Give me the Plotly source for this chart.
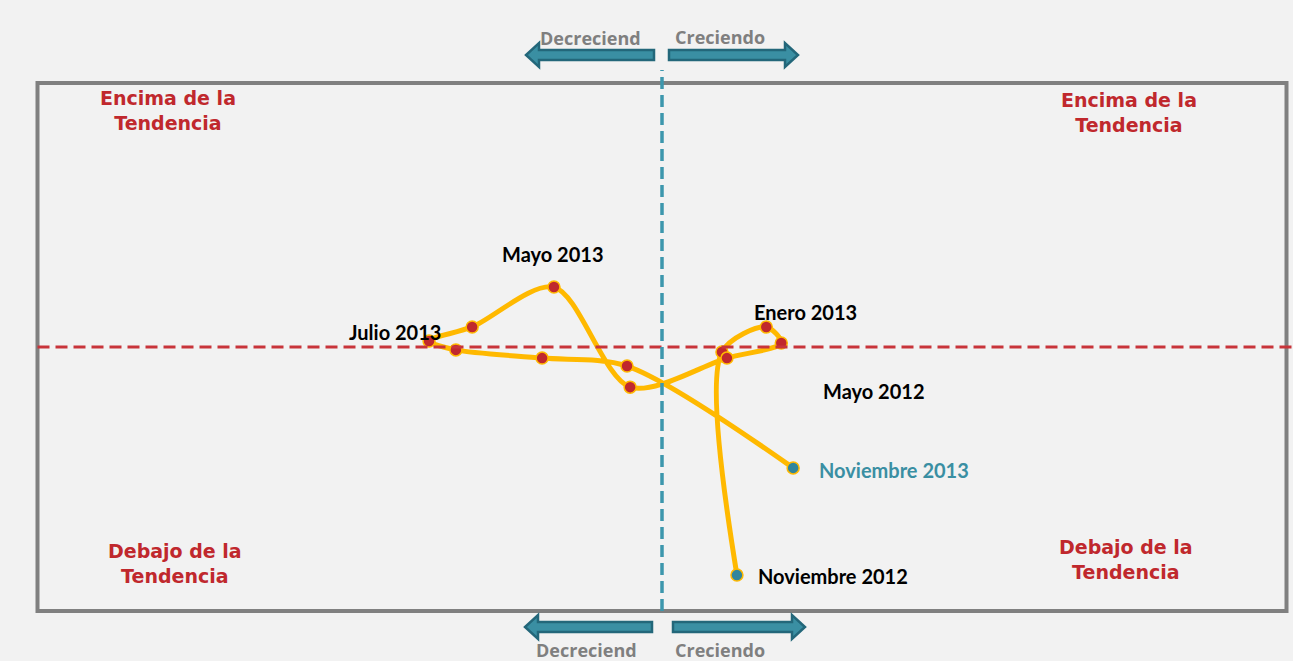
import plotly.graph_objects as go

# reloj del ciclo: desviación de la tendencia (y) vs crecimiento (x)
meses = ["Noviembre 2012", "Diciembre 2012", "Enero 2013", "Febrero 2013", "Marzo 2013",
         "Abril 2013", "Mayo 2013", "Junio 2013", "Julio 2013", "Agosto 2013",
         "Septiembre 2013", "Octubre 2013", "Noviembre 2013"]
crecimiento = [0.120, 0.096, 0.167, 0.191, 0.104, -0.051, -0.173, -0.304, -0.373, -0.330, -0.192, -0.056, 0.210]
nivel = [-0.864, -0.019, 0.076, 0.015, -0.042, -0.152, 0.227, 0.076, 0.023, -0.011, -0.042, -0.072, -0.458]

W, H = 1293, 661
# escala de la caja: x -1..1 -> px 38..1287, y -1..1 -> px 611..83
X0, XS = 662, 624.5
Y0, YS = 347, 264


def px(x):
    return (x - X0) / XS


def py(y):
    return (Y0 - y) / YS


AMBAR = "#ffb900"
ROJO = "#c0282d"
TEAL = "#31859c"
GRIS = "#808080"

fig = go.Figure()

colores = [TEAL] + [ROJO] * (len(meses) - 2) + [TEAL]
fig.add_trace(go.Scatter(
    x=crecimiento, y=nivel, mode="lines+markers", text=meses,
    line=dict(color=AMBAR, width=5, shape="spline", smoothing=0.85),
    marker=dict(size=12, color=colores, line=dict(color=AMBAR, width=1.5)),
    hoverinfo="text", showlegend=False,
))

shapes = []
# caja
shapes.append(dict(type="rect", xref="x", yref="y", x0=-1, x1=1, y0=-1, y1=1,
                   line=dict(color=GRIS, width=4)))
# ejes de tendencia
shapes.append(dict(type="line", xref="x", yref="y", x0=-1, x1=px(W), y0=0, y1=0,
                   line=dict(color="#c8343a", width=3, dash="12px,6px")))
shapes.append(dict(type="line", xref="x", yref="y", x0=0, x1=0, y0=-1, y1=py(70),
                   line=dict(color="#3d97ad", width=3.5, dash="12px,6px")))


def flecha(x_cola, x_punta, yc, derecha):
    # flecha de bloque en píxeles
    s = 1 if derecha else -1
    x_base = x_punta - s * 13
    pts = [(x_cola, yc - 5), (x_base, yc - 5), (x_base, yc - 12), (x_punta, yc),
           (x_base, yc + 12), (x_base, yc + 5), (x_cola, yc + 5)]
    path = "M " + " L ".join(f"{px(a)},{py(b)}" for a, b in pts) + " Z"
    return dict(type="path", xref="x", yref="y", path=path,
                fillcolor="#3a8fa3", line=dict(color="#23677a", width=2.5))


shapes += [flecha(654, 526, 55, False), flecha(669, 798, 55, True),
           flecha(652, 525, 627, False), flecha(673, 805, 627, True)]

anots = []


def texto(x, y, t, color="black", size=20, xanchor="center", family="Lato"):
    anots.append(dict(x=px(x), y=py(y), xref="x", yref="y", text=t, showarrow=False,
                      xanchor=xanchor, yanchor="middle",
                      font=dict(family=family, size=size, color=color, weight="bold")))


texto(590, 38, "Decreciend", color="#7f7f7f", size=18, family="Open Sans")
texto(720, 37, "Creciendo", color="#7f7f7f", size=18, family="Open Sans")
texto(586, 650, "Decreciend", color="#7f7f7f", size=18, family="Open Sans")
texto(720, 650, "Creciendo", color="#7f7f7f", size=18, family="Open Sans")

for (x, y, t) in [(168, 110, "Encima de la<br>Tendencia"), (1129, 112, "Encima de la<br>Tendencia"),
                  (175, 563, "Debajo de la<br>Tendencia"), (1126, 559, "Debajo de la<br>Tendencia")]:
    anots.append(dict(x=px(x), y=py(y), xref="x", yref="y", text=t, showarrow=False,
                      font=dict(family="DejaVu Sans", size=19, color=ROJO, weight="bold"),
                      align="center"))

texto(443, 332, "Julio 2013", xanchor="right")
texto(552, 254, "Mayo 2013")
texto(752, 312, "Enero 2013", xanchor="left")
texto(821, 391, "Mayo 2012", xanchor="left")
texto(817, 470, "Noviembre 2013", color="#3a8fa3", xanchor="left")
texto(756, 576, "Noviembre 2012", xanchor="left")

fig.update_layout(
    width=W, height=H,
    margin=dict(l=0, r=0, t=0, b=0),
    paper_bgcolor="#f2f2f2", plot_bgcolor="#f2f2f2",
    xaxis=dict(range=[px(0), px(W)], visible=False, fixedrange=True),
    yaxis=dict(range=[py(H), py(0)], visible=False, fixedrange=True),
    shapes=shapes, annotations=anots,
)

fig.write_html("out.html", config={"displayModeBar": False},
               post_script="document.body.style.margin='0';document.body.style.overflow='hidden';")
